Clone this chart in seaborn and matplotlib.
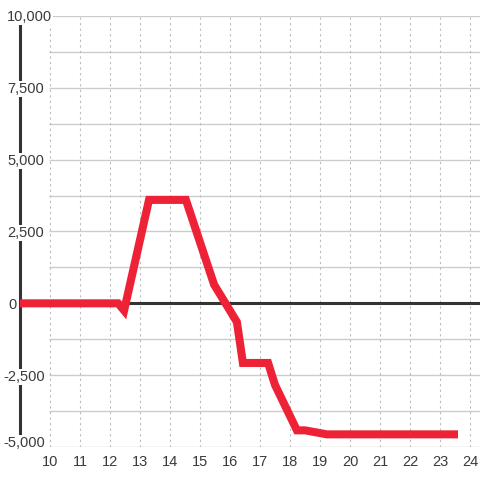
import matplotlib
matplotlib.use("Agg")
import numpy as np
import pandas as pd
import seaborn as sns
import matplotlib.pyplot as plt
from matplotlib.transforms import blended_transform_factory

# values
hours = [8.9, 12.27, 12.47, 13.3, 14.53, 15.47, 16.23, 16.43, 17.27, 17.5, 18.23, 18.5, 19.23, 23.6]
values = [0, 0, -250, 3600, 3600, 650, -650, -2075, -2075, -2840, -4420, -4420, -4560, -4560]

y_ticks = [-5000, -2500, 0, 2500, 5000, 7500, 10000]
y_grid = [-5000, -3750, -2500, -1250, 1250, 2500, 3750, 5000, 6250, 7500, 8750, 10000]
x_ticks = list(range(10, 25))

df = pd.DataFrame({"hour": hours, "value": values})

sns.set_style("white")
plt.rcParams['font.family'] = ['Liberation Sans', 'DejaVu Sans']

fig = plt.figure(figsize=(4.8, 4.8), dpi=100)
ax = fig.add_axes([20 / 480, 33 / 480, 460 / 480, 431 / 480])

x_min, x_max = 9, 24.333
ax.set_xlim(x_min, x_max)
ax.set_ylim(-5000, 10000)

# grid
ax.hlines(y_grid, 9.95, x_max, color='#cccccc', lw=1, zorder=1)
ax.vlines(x_ticks, -5000, 10000, color='#bbbbbb', lw=0.8, linestyles=(0, (2, 3)), zorder=1)
ax.axhline(0, color='#333333', lw=2.2, zorder=2)

sns.lineplot(data=df, x='hour', y='value', ax=ax, color='#ee2236', lw=5.8,
             zorder=4, solid_joinstyle='miter', solid_capstyle='butt')

for s in ['top', 'right', 'bottom']:
    ax.spines[s].set_visible(False)
ax.spines['left'].set_color('#333333')
ax.spines['left'].set_linewidth(2.2)
ax.spines['left'].set_zorder(2.5)

# y labels sit on top of the axis line, left aligned
trans = blended_transform_factory(fig.transFigure, ax.transData)
ax.set_yticks([])
for v in y_ticks:
    off = 200 if v == -5000 else 0
    x_px = 3 if v < 0 else (8 if v == 0 else 7)
    ax.text(x_px / 480, v + off, f'{v:,}', transform=trans, ha='left', va='center_baseline',
            fontsize=10.5, color='#3a3a3a',
            bbox=dict(fc='white', ec='none', pad=0.6), zorder=3)

ax.set_xticks(x_ticks)
ax.tick_params(axis='x', length=0, pad=6, labelsize=10.5, labelcolor='#3a3a3a')
ax.set_xlabel('')
ax.set_ylabel('')

fig.savefig('out.png', dpi=100)
